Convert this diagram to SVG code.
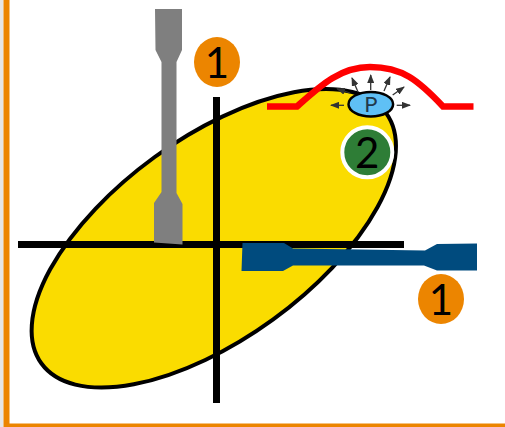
<svg xmlns="http://www.w3.org/2000/svg" width="505" height="427" viewBox="0 0 505 427">
<style>
.num{font-family:Lato,"Liberation Sans",sans-serif;font-size:42px;text-anchor:middle;fill:#000}
.ax{stroke:#000;stroke-width:7;fill:none}
.ar{stroke:#333;stroke-width:1.300;fill:none;marker-end:url(#a)}
</style>
<defs><marker id="a" markerUnits="userSpaceOnUse" markerWidth="9" markerHeight="7" refX="8" refY="3.500" orient="auto"><path d="M0 0L9 3.500L0 7Z" fill="#333"/></marker></defs>
<rect width="505" height="427" fill="#fff"/>
<rect x="0" y="0" width="3.500" height="427" fill="#e6e6e6"/>
<path d="M3.500 0V427H505V423.500H9.500V0Z" fill="#ec8500"/>
<g id="ellipse"><ellipse cx="213.800" cy="238.300" rx="213" ry="100.500" transform="rotate(-36 213.800 238.300)" fill="#fadc00" stroke="#000" stroke-width="4"/></g>
<g id="axes"><path class="ax" d="M18 244.500H404M216.500 97V403"/></g>
<g id="specimen-vertical"><path d="M155 9H182V50L176.500 62V193L182.500 204V244.500L154 242.500V203L161.500 192V62L155.500 50Z" fill="#7f7f7f"/></g>
<g id="specimen-horizontal"><path d="M242.500 243H284L293 248.500L425 250.500L437 244L477 243.500V270.500H437L424 265.500H293L283 271H241.500Z" fill="#004b7e"/></g>
<g id="badge-1a"><ellipse cx="217" cy="62" rx="23" ry="25" fill="#ec8500"/><text class="num" x="217" y="78">1</text></g>
<g id="badge-1b"><ellipse cx="441" cy="299" rx="23" ry="25" fill="#ec8500"/><text class="num" x="441" y="315">1</text></g>
<g id="badge-2"><circle cx="367.300" cy="152.300" r="25" fill="#2e7d36" stroke="#fff" stroke-width="4"/><text class="num" x="367.300" y="167.500">2</text></g>
<g id="pressure-curve"><path d="M267 106.500H297C320 86 340 67 370 67C402 67 418 80 443 106.500H473.500" fill="none" stroke="#f00" stroke-width="6.500"/></g>
<g id="connectors">
<path class="ar" d="M358 92L352 78"/>
<path class="ar" d="M370.700 90V75"/>
<path class="ar" d="M384 91L390 77"/>
<path class="ar" d="M392.700 95L404 87"/>
<path class="ar" d="M350 93L337 88.700"/>
<path class="ar" d="M344 105.300H331"/>
<path class="ar" d="M396.700 105.300H410"/>
</g>
<g id="node-p"><ellipse cx="370.800" cy="104.200" rx="22.300" ry="12.300" fill="#5fc0f5" stroke="#000" stroke-width="2.500"/><text x="370.800" y="112" font-family="Lato,'Liberation Sans',sans-serif" font-size="22" text-anchor="middle" fill="#1f3a4d">P</text></g>
</svg>
